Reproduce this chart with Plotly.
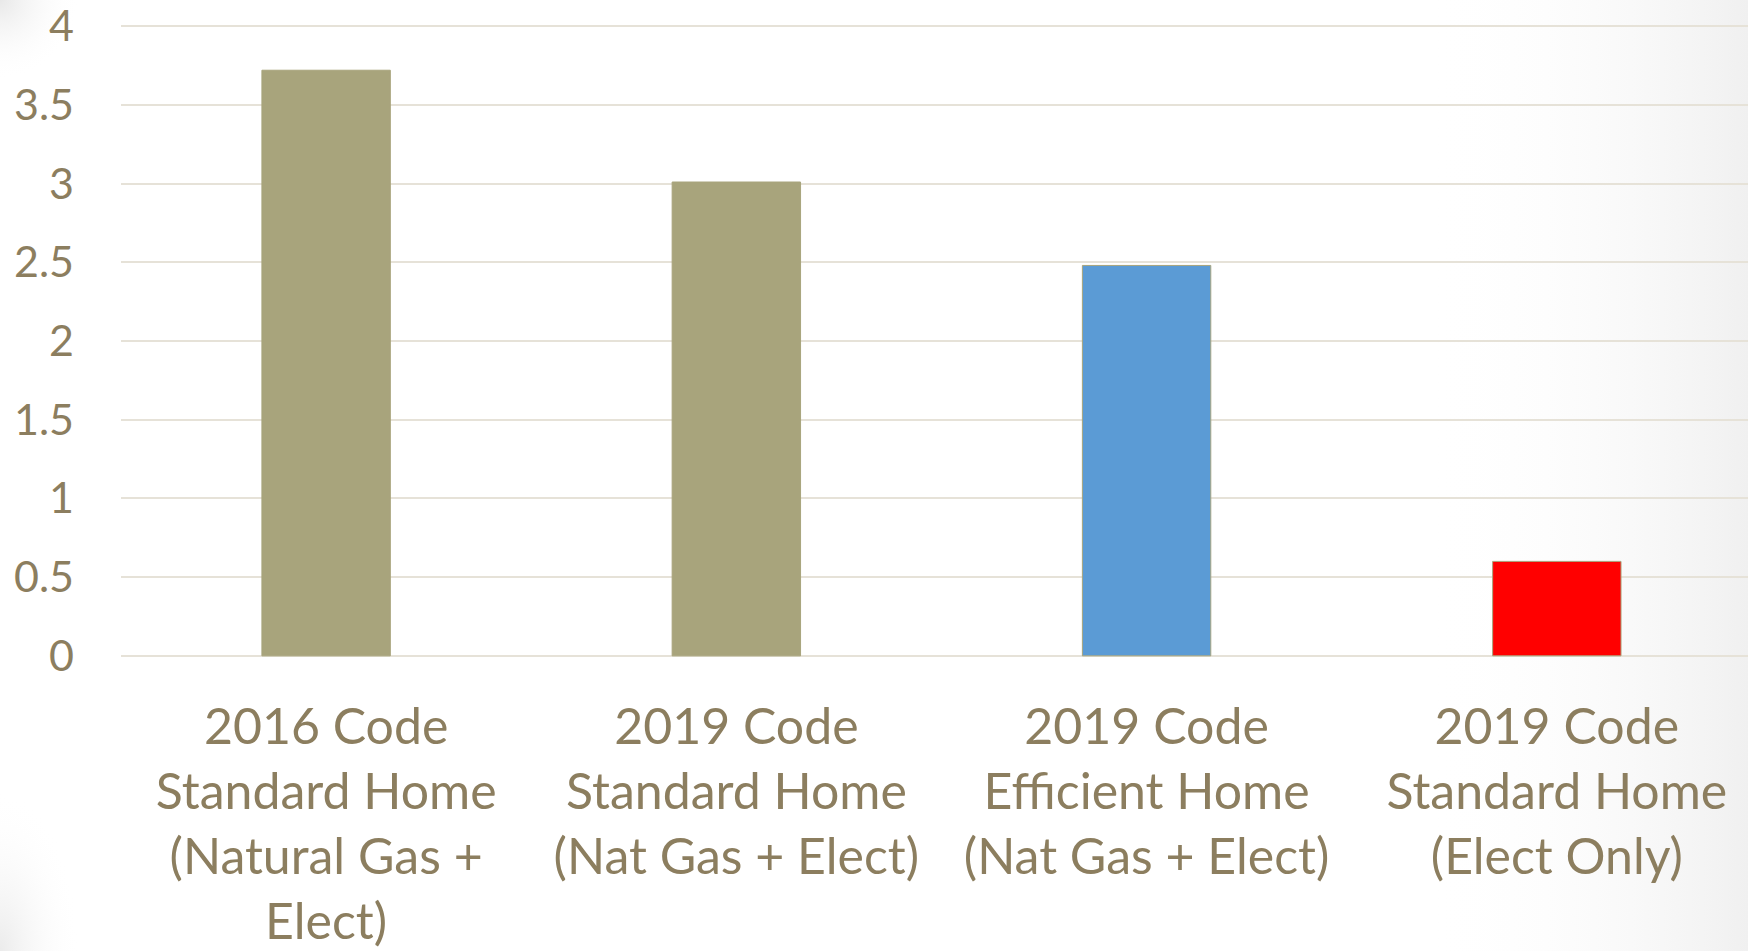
import base64
import plotly.graph_objects as go

categories = [
    "2016 Code<br>Standard Home<br>(Natural Gas +<br>Elect)",
    "2019 Code<br>Standard Home<br>(Nat Gas + Elect)",
    "2019 Code<br>Efficient Home<br>(Nat Gas + Elect)",
    "2019 Code<br>Standard Home<br>(Elect Only)",
]
values = [3.72, 3.01, 2.48, 0.60]
bar_colors = ["#A8A47C", "#A8A47C", "#5B9BD5", "#FF0000"]
y_ticks = [0, 0.5, 1, 1.5, 2, 2.5, 3, 3.5, 4]
y_ticktext = ["0", "0.5", "1", "1.5", "2", "2.5", "3", "3.5", "4"]

text_color = "#8C7E5F"
grid_color = "#E6E2D8"

W, H = 1748, 951
ML, MR, MT, MB = 121, 0, 23, 292
PW, PH = W - ML - MR, H - MT - MB

# subtle slide-background vignette
svg = f"""<svg xmlns='http://www.w3.org/2000/svg' width='{W}' height='{H}' viewBox='0 0 {W} {H}'>
<defs>
<linearGradient id='r' x1='0' y1='0' x2='1' y2='0'>
<stop offset='0' stop-color='#ffffff' stop-opacity='0'/>
<stop offset='1' stop-color='#f0f0f0' stop-opacity='1'/>
</linearGradient>
<radialGradient id='tl' cx='0' cy='0' r='1'>
<stop offset='0' stop-color='#e8e8e8' stop-opacity='1'/>
<stop offset='1' stop-color='#ffffff' stop-opacity='0'/>
</radialGradient>
<radialGradient id='bl' cx='0' cy='1' r='1'>
<stop offset='0' stop-color='#ebebeb' stop-opacity='1'/>
<stop offset='1' stop-color='#ffffff' stop-opacity='0'/>
</radialGradient>
</defs>
<rect width='{W}' height='{H}' fill='#ffffff'/>
<rect x='1430' y='0' width='{W-1430}' height='{H}' fill='url(#r)'/>
<rect x='0' y='0' width='80' height='80' fill='url(#tl)'/>
<rect x='0' y='{H-160}' width='80' height='160' fill='url(#bl)'/>
</svg>"""
bg_src = "data:image/svg+xml;base64," + base64.b64encode(svg.encode()).decode()

fig = go.Figure(
    go.Bar(
        x=list(range(len(categories))),
        y=values,
        width=0.313,
        marker=dict(color=bar_colors, line=dict(color="#A8A47C", width=1)),
        showlegend=False,
        hoverinfo="skip",
    )
)

fig.update_layout(
    width=W,
    height=H,
    margin=dict(l=ML, r=MR, t=MT, b=MB),
    paper_bgcolor="white",
    plot_bgcolor="rgba(0,0,0,0)",
    font=dict(family="Lato", color=text_color),
    images=[
        dict(
            source=bg_src,
            xref="paper", yref="paper",
            x=-ML / PW, y=1 + MT / PH,
            sizex=W / PW, sizey=H / PH,
            xanchor="left", yanchor="top",
            sizing="stretch",
            layer="below",
        )
    ],
)
fig.update_xaxes(
    range=[-0.5, 3.466],
    tickmode="array",
    tickvals=list(range(len(categories))),
    ticktext=categories,
    tickfont=dict(size=50, color=text_color),
    showgrid=False,
    zeroline=False,
    showline=False,
    ticks="",
    ticklabelstandoff=34,
    ticklabeloverflow="allow",
    automargin=False,
)
fig.update_yaxes(
    range=[-0.02, 4.02],
    tickmode="array",
    tickvals=y_ticks,
    ticktext=y_ticktext,
    tickfont=dict(size=43, color=text_color),
    showgrid=True,
    gridcolor=grid_color,
    gridwidth=2,
    zeroline=True,
    zerolinecolor=grid_color,
    zerolinewidth=2,
    showline=False,
    ticks="",
    ticklabelstandoff=46,
    ticklabeloverflow="allow",
    automargin=False,
)

fig.write_html(
    "out.html",
    config={"displayModeBar": False},
    post_script="document.body.style.margin='0';document.body.style.overflow='hidden';",
)
